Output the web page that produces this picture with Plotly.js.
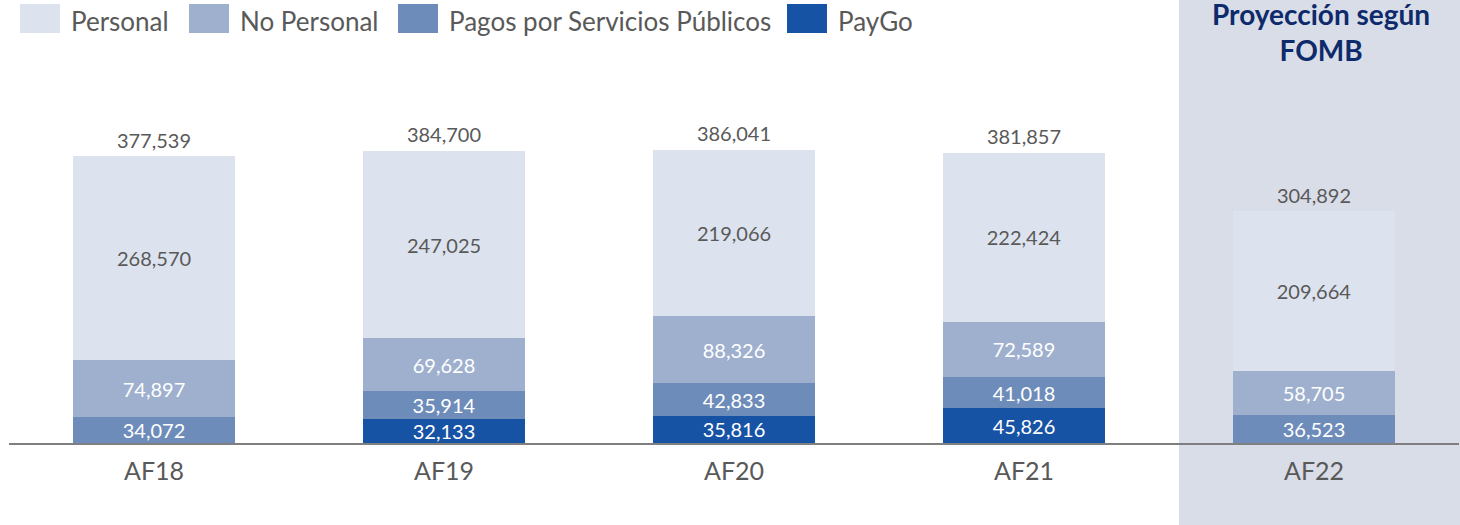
<!DOCTYPE html>
<html>
<head>
<meta charset="utf-8">
<script src="https://cdn.plot.ly/plotly-3.0.1.min.js"></script>
<style>
  html, body { margin: 0; padding: 0; background: #ffffff; }
  #chart { width: 1460px; height: 525px; }
</style>
</head>
<body>
<div id="chart"></div>
<script>
// ---- Data ----
const categories = ['AF18', 'AF19', 'AF20', 'AF21', 'AF22'];
const personal = [268570, 247025, 219066, 222424, 209664];
const noPersonal = [74897, 69628, 88326, 72589, 58705];
const pagosServicios = [34072, 35914, 42833, 41018, 36523];
const payGo = [null, 32133, 35816, 45826, null];
const seriesNames = ['Personal', 'No Personal', 'Pagos por Servicios Públicos', 'PayGo'];
const projectionLabel = 'Proyección según<br>FOMB';
const projectionCategory = 'AF22';

// ---- Style ----
const seriesColors = ['#dde3ee', '#9eb0ce', '#6e8cb9', '#1753a5'];
const labelColors = ['#595959', '#ffffff', '#ffffff', '#ffffff'];
const textGray = '#595959';
const fontFamily = 'Lato, "Open Sans", sans-serif';

// Plot geometry (pixels)
const W = 1460, H = 525;
const M = { l: 9, r: 1, t: 0, b: 82 };
const plotW = W - M.l - M.r, plotH = H - M.t - M.b;
const px2x = px => (px - M.l) / plotW;
const py2y = py => (M.t + plotH - py) / plotH;

const totals = categories.map((_, i) =>
  (personal[i] || 0) + (noPersonal[i] || 0) + (pagosServicios[i] || 0) + (payGo[i] || 0));

function barTrace(values, idx) {
  return {
    type: 'bar',
    name: seriesNames[idx],
    x: categories,
    y: values,
    marker: { color: seriesColors[idx], line: { width: 0 } },
    texttemplate: '%{y:,.0f}',
    textposition: 'inside',
    insidetextanchor: 'middle',
    constraintext: 'none',
    textfont: { family: fontFamily, size: 20, color: labelColors[idx] },
    hoverinfo: 'skip',
    showlegend: false
  };
}

const traces = [
  barTrace(payGo, 3),
  barTrace(pagosServicios, 2),
  barTrace(noPersonal, 1),
  barTrace(personal, 0),
  {
    type: 'scatter',
    mode: 'markers+text',
    x: categories,
    y: totals,
    marker: { size: 4, opacity: 0 },
    text: totals.map(v => v.toLocaleString('en-US')),
    textposition: 'top center',
    textfont: { family: fontFamily, size: 20, color: textGray },
    hoverinfo: 'skip',
    showlegend: false,
    cliponaxis: false
  }
];

// Shaded projection region
const projIdx = categories.indexOf(projectionCategory);
const catW = plotW / categories.length;
const shapes = [{
  type: 'rect', xref: 'paper', yref: 'paper', layer: 'below',
  x0: px2x(M.l + catW * projIdx + 10), x1: px2x(W + 5),
  y0: py2y(H + 5), y1: py2y(-5),
  fillcolor: '#d9dde8', line: { width: 0 }
}];

// Custom legend
const legendSwatchLeft = [20, 189, 398, 787];
const annotations = [];
seriesNames.forEach((name, i) => {
  const sx = legendSwatchLeft[i];
  shapes.push({
    type: 'rect', xref: 'paper', yref: 'paper', layer: 'above',
    x0: px2x(sx), x1: px2x(sx + 40), y0: py2y(33), y1: py2y(4),
    fillcolor: seriesColors[i], line: { width: 0 }
  });
  annotations.push({
    xref: 'paper', yref: 'paper', x: px2x(sx + 49), y: py2y(21),
    xanchor: 'left', yanchor: 'middle', showarrow: false,
    text: name, font: { family: fontFamily, size: 26, color: textGray }
  });
});

annotations.push({
  xref: 'paper', yref: 'paper', x: px2x(1321), y: py2y(32),
  xanchor: 'center', yanchor: 'middle', showarrow: false,
  text: '<b>' + projectionLabel + '</b>',
  font: { family: fontFamily, size: 28, color: '#0d2a6b' }
});

const layout = {
  width: W, height: H,
  margin: M,
  paper_bgcolor: '#ffffff',
  plot_bgcolor: 'rgba(0,0,0,0)',
  barmode: 'stack',
  bargap: 0.44,
  showlegend: false,
  font: { family: fontFamily, color: textGray },
  xaxis: {
    type: 'category',
    range: [-0.5, categories.length - 0.5],
    showline: true, linecolor: '#7f7f7f', linewidth: 2,
    ticks: '', showgrid: false, zeroline: false,
    ticklabelstandoff: 5,
    tickfont: { family: fontFamily, size: 25, color: textGray },
    fixedrange: true
  },
  yaxis: {
    range: [0, 583000],
    visible: false, showgrid: false, zeroline: false,
    fixedrange: true
  },
  shapes: shapes,
  annotations: annotations,
  uniformtext: { mode: 'show', minsize: 20 }
};

Plotly.newPlot('chart', traces, layout, { displayModeBar: false, staticPlot: true });
</script>
</body>
</html>
